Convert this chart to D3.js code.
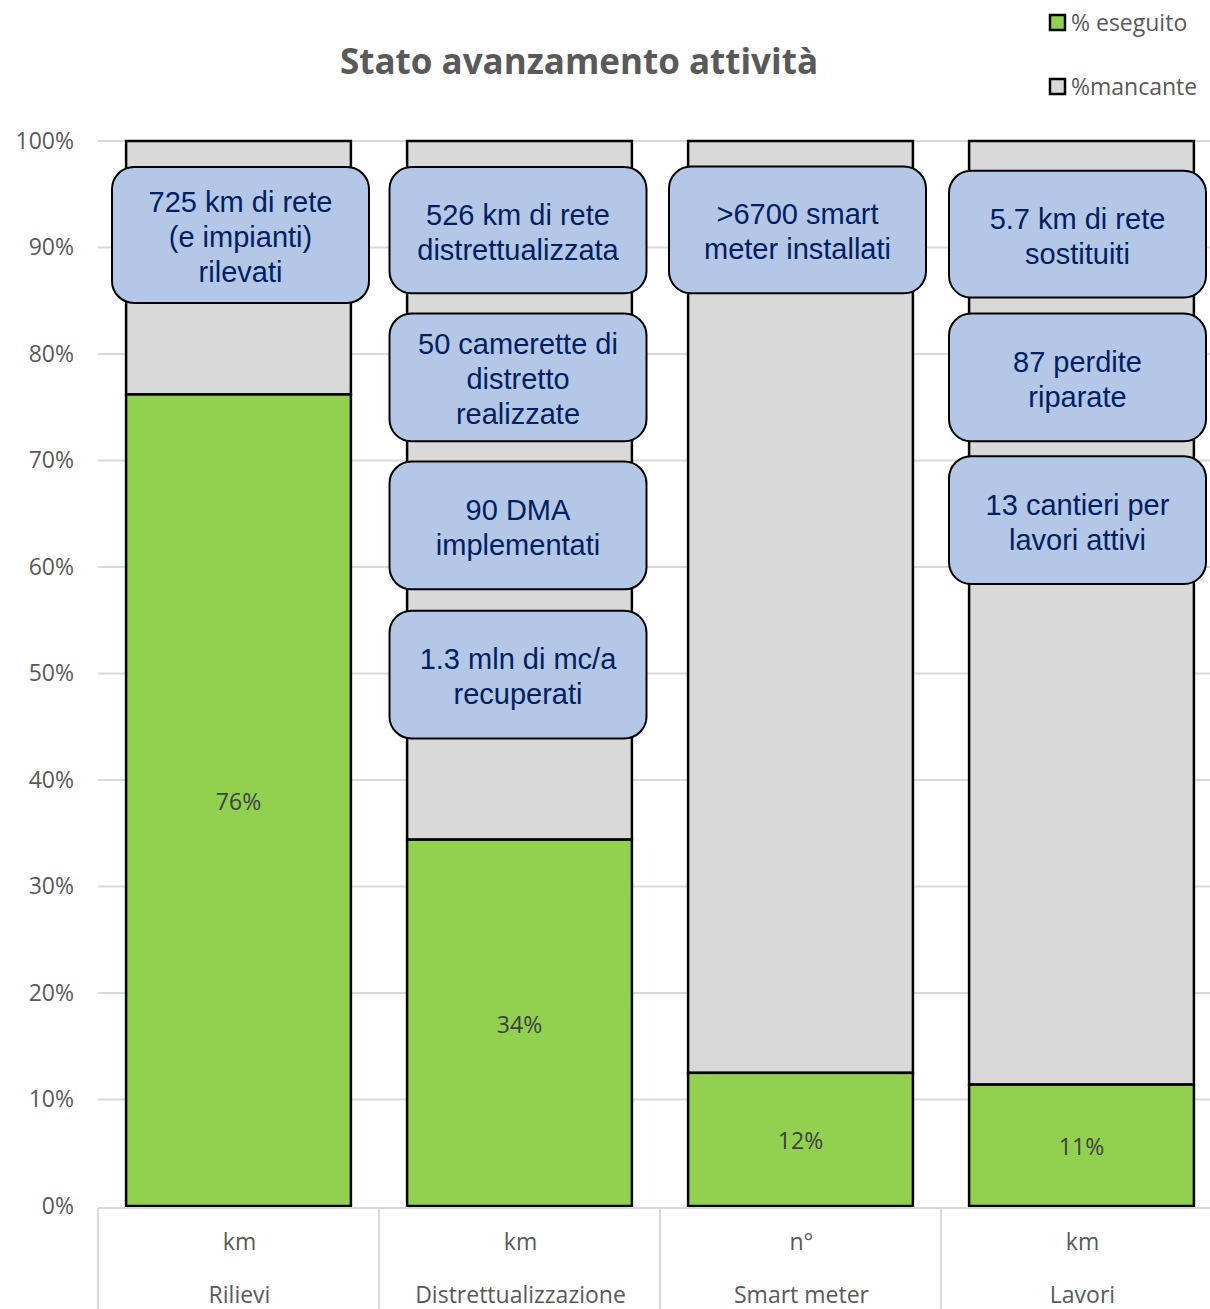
<!DOCTYPE html>
<html><head><meta charset="utf-8">
<script src="https://cdn.jsdelivr.net/npm/d3@7"></script>
<style>body{margin:0;background:#fff}svg{display:block}</style>
</head><body>
<svg id="c" width="1210" height="1309"></svg>
<script>
const categories = ["Rilievi","Distrettualizzazione","Smart meter","Lavori"];
const units = ["km","km","n°","km"];
const eseguito = [76.2, 34.4, 12.5, 11.4];
const mancante = eseguito.map(v => 100 - v);
const doneLabels = ["76%","34%","12%","11%"];
const yTicks = [0,10,20,30,40,50,60,70,80,90,100];
const seriesNames = ["% eseguito","%mancante"];
// annotation texts per category
const notes = [
  [["725 km di rete","(e impianti)","rilevati"]],
  [["526 km di rete","distrettualizzata"],["50 camerette di","distretto","realizzate"],["90 DMA","implementati"],["1.3 mln di mc/a","recuperati"]],
  [[">6700 smart","meter installati"]],
  [["5.7 km di rete","sostituiti"],["87 perdite","riparate"],["13 cantieri per","lavori attivi"]]
];
// layout of annotation boxes (top/bottom in % of axis) and horizontal offsets (px)
const noteLayout = [
  [[97.55,84.8]],
  [[97.55,85.7],[83.8,71.8],[69.9,57.9],[55.9,43.9]],
  [[97.6,85.7]],
  [[97.2,85.3],[83.8,71.8],[70.4,58.4]]
];
const noteShift = [2,-1.5,-3,-4];

const svg = d3.select("#c");
const gray = "#595959";
const smallFont = "'Open Sans', Lato, sans-serif";
const x = d3.scaleBand().domain(categories).range([98,1222]).paddingInner(0.2).paddingOuter(0.1);
const y = d3.scaleLinear().domain([0,100]).range([1206,141]);

// gridlines
svg.append("g").selectAll("line").data(yTicks.filter(t=>t>0)).join("line")
  .attr("x1",98).attr("x2",1210).attr("y1",d=>y(d)).attr("y2",d=>y(d))
  .attr("stroke","#d9d9d9").attr("stroke-width",2);

// y axis labels
const yAxis = d3.axisLeft(y).tickValues(yTicks).tickFormat(d=>d+"%").tickSize(0).tickPadding(0);
const ya = svg.append("g").attr("transform","translate(74,0)").call(yAxis);
ya.select(".domain").remove();
ya.selectAll("text").attr("font-family",smallFont).attr("font-size",23).attr("fill",gray);

// bars
const stack = categories.map((c,i)=>({c,done:eseguito[i],miss:mancante[i],lab:doneLabels[i]}));
const g = svg.append("g");
g.selectAll("rect.miss").data(stack).join("rect").attr("class","miss")
  .attr("x",d=>x(d.c)).attr("width",x.bandwidth())
  .attr("y",d=>y(d.done+d.miss)).attr("height",d=>y(d.done)-y(d.done+d.miss))
  .attr("fill","#d9d9d9").attr("stroke","#000").attr("stroke-width",2.5);
g.selectAll("rect.done").data(stack).join("rect").attr("class","done")
  .attr("x",d=>x(d.c)).attr("width",x.bandwidth())
  .attr("y",d=>y(d.done)).attr("height",d=>y(0)-y(d.done))
  .attr("fill","#92d050").attr("stroke","#000").attr("stroke-width",2.5);
g.selectAll("text.lab").data(stack).join("text").attr("class","lab")
  .attr("x",d=>x(d.c)+x.bandwidth()/2).attr("y",d=>(y(d.done)+y(0))/2+10)
  .attr("text-anchor","middle").attr("font-family",smallFont)
  .attr("font-size",23).attr("fill","#404040").text(d=>d.lab);

// x axis table
const xa = svg.append("g");
xa.append("line").attr("x1",98).attr("x2",1210).attr("y1",1208).attr("y2",1208).attr("stroke","#d9d9d9").attr("stroke-width",2);
const step = x.step();
categories.forEach((c,i)=>{
  const cx = x(c)+x.bandwidth()/2;
  const bl = cx - step/2;
  xa.append("line").attr("x1",bl).attr("x2",bl).attr("y1",1208).attr("y2",1309).attr("stroke","#d9d9d9").attr("stroke-width",2);
  xa.append("text").attr("x",cx+1).attr("y",1250).attr("text-anchor","middle")
    .attr("font-family",smallFont).attr("font-size",23).attr("fill",gray).text(units[i]);
  xa.append("text").attr("x",cx+1).attr("y",1303).attr("text-anchor","middle")
    .attr("font-family",smallFont).attr("font-size",23).attr("fill",gray).text(c);
});

// annotation boxes
categories.forEach((c,i)=>{
  const cx = x(c)+x.bandwidth()/2 + noteShift[i];
  const w = 257;
  notes[i].forEach((lines,j)=>{
    const [t,b] = noteLayout[i][j];
    const y0 = y(t), y1 = y(b);
    svg.append("rect").attr("x",cx-w/2).attr("y",y0).attr("width",w).attr("height",y1-y0)
      .attr("rx",22).attr("ry",22).attr("fill","#b4c7e7").attr("stroke","#000").attr("stroke-width",2);
    const lh = 35;
    const mid = (y0+y1)/2;
    const start = mid - (lines.length-1)*lh/2 + 12;
    const tx = svg.append("text").attr("text-anchor","middle")
      .style("font-family","'Liberation Sans', Arial, Helvetica, sans-serif").attr("font-size",29).attr("fill","#002060");
    lines.forEach((l,k)=>{
      tx.append("tspan").attr("x",cx).attr("y",start+k*lh).text(l);
    });
  });
});

// title
svg.append("text").attr("x",579).attr("y",74).attr("text-anchor","middle")
  .attr("font-family","'Open Sans', Lato, sans-serif").attr("font-weight","bold")
  .attr("font-size",35).attr("fill",gray).text("Stato avanzamento attività");

// legend
const legColors = ["#92d050","#d9d9d9"];
seriesNames.forEach((s,i)=>{
  const ly = 15 + i*64;
  svg.append("rect").attr("x",1050).attr("y",ly).attr("width",15).attr("height",15)
    .attr("fill",legColors[i]).attr("stroke","#000").attr("stroke-width",2.5);
  svg.append("text").attr("x",1071).attr("y",ly+16).attr("font-family",smallFont)
    .attr("font-size",23).attr("fill",gray).text(s);
});
</script>
</body></html>
